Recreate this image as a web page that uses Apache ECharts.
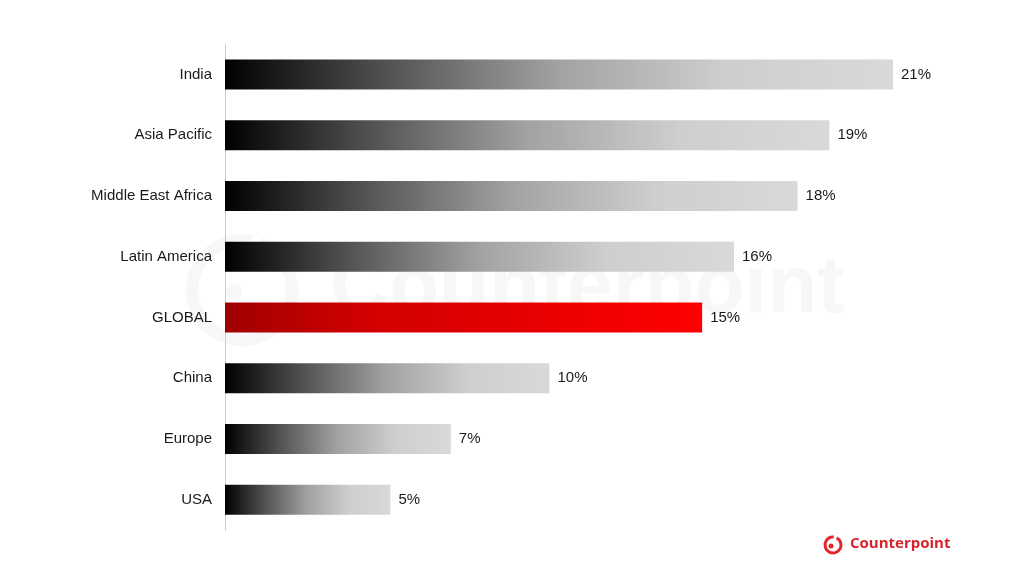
<!DOCTYPE html>
<html><head><meta charset="utf-8">
<script src="https://cdn.jsdelivr.net/npm/echarts@6/dist/echarts.min.js"></script>
<style>html,body{margin:0;padding:0;background:#fff}#c{width:1024px;height:576px}</style>
</head><body><div id="c"></div>
<script>
const categories = ['India','Asia Pacific','Middle East Africa','Latin America','GLOBAL','China','Europe','USA'];
const values = [21, 19, 18, 16, 15, 10.2, 7.1, 5.2];
const valueLabels = ['21%','19%','18%','16%','15%','10%','7%','5%'];
const highlight = 'GLOBAL';

const grayGrad = new echarts.graphic.LinearGradient(0,0,1,0,[
  {offset:0,color:'#000000'},{offset:0.25,color:'#555555'},{offset:0.5,color:'#a2a2a2'},
  {offset:0.75,color:'#cecece'},{offset:1,color:'#d9d9d9'}]);
const redGrad = new echarts.graphic.LinearGradient(0,0,1,0,[
  {offset:0,color:'#a00000'},{offset:0.3,color:'#d20000'},{offset:0.65,color:'#e80000'},{offset:1,color:'#ff0000'}]);

const chart = echarts.init(document.getElementById('c'));
chart.setOption({
  backgroundColor:'#fff',
  animation:false,
  grid:{left:225,right:131,top:44,bottom:46},
  xAxis:{type:'value',min:0,max:21,show:false},
  yAxis:{type:'category',inverse:true,data:categories,
    axisLine:{show:true,lineStyle:{color:'#cccccc',width:1}},
    axisTick:{show:false},
    axisLabel:{color:'#1a1a1a',fontSize:15,margin:13,padding:[3,0,0,0],fontFamily:'Liberation Sans, Arial, sans-serif'}},
  graphic:[
    {type:'arc',z:-10,shape:{cx:242,cy:290,r:50,startAngle:-1.2,endAngle:4.9},style:{stroke:'#f7f7f7',fill:null,lineWidth:12}},
    {type:'circle',z:-10,shape:{cx:234,cy:292,r:8},style:{fill:'#f7f7f7'}},
    {type:'text',z:-10,left:330,top:248,style:{text:'Counterpoint',fontSize:82,fontWeight:'bold',fill:'#f7f7f7',fontFamily:'Liberation Sans, Arial, sans-serif'}},
    {type:'arc',shape:{cx:833,cy:545,r:8,startAngle:-1.1,endAngle:4.8},style:{stroke:'#e3262e',fill:null,lineWidth:3}},
    {type:'circle',shape:{cx:831,cy:546,r:2.5},style:{fill:'#e3262e'}},
    {type:'text',left:850,top:536,style:{text:'Counterpoint',fontSize:15,fontWeight:'bold',fill:'#d8232c',fontFamily:'Open Sans, Liberation Sans, sans-serif'}}
  ],
  series:[{
    type:'bar',barWidth:30,
    data:values.map((v,i)=>({value:v,itemStyle:{color:categories[i]===highlight?redGrad:grayGrad}})),
    label:{show:true,position:'right',distance:8,color:'#1a1a1a',fontSize:15,padding:[3,0,0,0],
      fontFamily:'Liberation Sans, Arial, sans-serif',
      formatter:p=>valueLabels[p.dataIndex]}
  }]
});
</script></body></html>
